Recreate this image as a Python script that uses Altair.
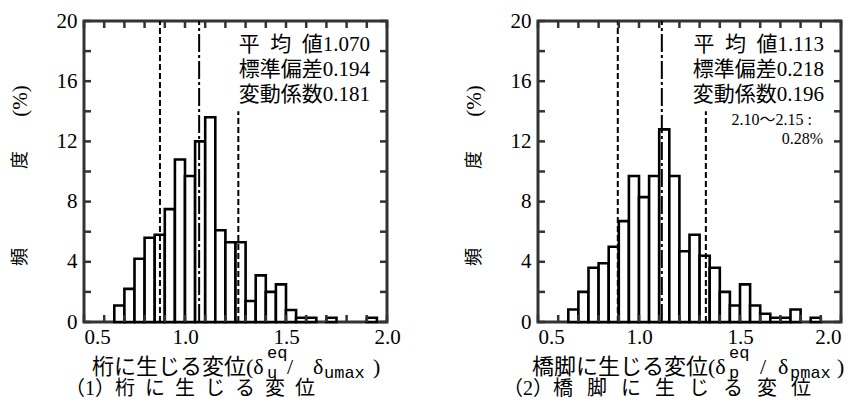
import altair as alt
import pandas as pd

# ---------------- data ----------------
BIN_W = 0.05
bins = [0.65, 0.70, 0.75, 0.80, 0.85, 0.90, 0.95, 1.00, 1.05, 1.10, 1.15, 1.20, 1.25,
        1.30, 1.35, 1.40, 1.45, 1.50, 1.55, 1.60, 1.65, 1.70, 1.75, 1.80, 1.85, 1.90]
freq_girder = [1.1, 2.2, 4.2, 5.6, 5.8, 7.5, 10.8, 9.7, 12.0, 13.6, 6.1, 5.3, 5.3,
               1.4, 3.1, 2.0, 2.5, 0.8, 0.28, 0.28, 0, 0.28, 0, 0, 0, 0.28]
freq_pier = [0.83, 2.0, 3.6, 3.9, 5.0, 6.7, 9.7, 8.3, 9.7, 12.8, 9.7, 4.7, 5.8,
             4.4, 3.6, 2.0, 1.1, 2.5, 1.1, 0.55, 0.28, 0.28, 0.83, 0, 0.28, 0]
stats_girder = [1.070, 0.194, 0.181]   # mean, sd, cv
stats_pier = [1.113, 0.218, 0.196]
x_ticks = [0.5, 0.6, 0.7, 0.8, 0.9, 1.0, 1.1, 1.2, 1.3, 1.4, 1.5, 1.6, 1.7, 1.8, 1.9, 2.0]
y_ticks = [0, 2, 4, 6, 8, 10, 12, 14, 16, 18, 20]
stat_labels = ["平\u2002均\u2002値", "標準偏差", "変動係数"]

SERIF = "Liberation Serif, Noto Sans CJK JP"
MONO = "Liberation Mono"
CJK = "Noto Sans CJK JP"
INK = "#000000"
FRAME = "#333333"
W, H = 303, 301
X0, X1, Y0, Y1 = 0.5, 2.0, 0, 20
TKX = (X1 - X0) * 7 / W     # 7 px inward tick length in data units
TKY = (Y1 - Y0) * 7 / H
ONE = pd.DataFrame({"a": [0]})


def txt(s, x, y, size, align="left", baseline="middle", angle=0, font=SERIF):
    return alt.Chart(ONE).mark_text(
        text=s, align=align, baseline=baseline, angle=angle, font=font,
        fontSize=size, color=INK
    ).encode(x=alt.value(x), y=alt.value(y))


def panel(freq, stats, sd_top, title_parts, caption, cap_x, right_flush, extra):
    mean, sd, cv = stats
    df = pd.DataFrame({"start": bins, "freq": freq})
    df = df[df.freq > 0].copy()
    df["end"] = df.start + BIN_W
    df["zero"] = 0.0

    xs = alt.Scale(domain=[X0, X1], nice=False, zero=False)
    ys = alt.Scale(domain=[Y0, Y1], nice=False)

    if right_flush:
        lab_align = {"condition": [{"test": "datum.value < 0.55", "value": "left"},
                                   {"test": "datum.value > 1.95", "value": "right"}],
                     "value": "center"}
    else:
        lab_align = {"condition": {"test": "datum.value < 0.55", "value": "left"},
                     "value": "center"}

    x_axis = alt.Axis(values=x_ticks,
                      labelExpr="abs(datum.value*2 - round(datum.value*2)) < 0.001 ? format(datum.value, '.1f') : ''",
                      labelAlign=lab_align, labelFlush=False, labelOverlap=False,
                      ticks=False, domain=False, labelPadding=4, title=None)
    y_axis = alt.Axis(values=y_ticks,
                      labelExpr="datum.value % 4 == 0 ? datum.label : ''",
                      labelFlush=False, labelOverlap=False,
                      ticks=False, domain=False, labelPadding=7, title=None)

    bars = alt.Chart(df).mark_rect(fill="white", stroke=INK, strokeWidth=2.6).encode(
        x=alt.X("start:Q", scale=xs, axis=x_axis),
        x2="end:Q",
        y=alt.Y("freq:Q", scale=ys, axis=y_axis),
        y2="zero:Q",
    )

    ldf = pd.DataFrame({"x": [mean - sd, mean, mean + sd],
                        "bottom": [0, 0, 0],
                        "top": [20, 20, sd_top],
                        "kind": ["sd", "mean", "sd"]})
    rules = alt.Chart(ldf).mark_rule(color=INK, strokeWidth=2).encode(
        x=alt.X("x:Q", scale=xs, axis=None),
        y=alt.Y("bottom:Q", scale=ys, axis=None),
        y2="top:Q",
        strokeDash=alt.StrokeDash("kind:N", scale=alt.Scale(domain=["sd", "mean"],
                                  range=[[6, 3], [18, 3, 3, 3]]), legend=None),
    )

    # inward ticks on all four sides, as short segments in data units
    xt = pd.DataFrame({"t": x_ticks * 2,
                       "a": [Y0] * len(x_ticks) + [Y1] * len(x_ticks),
                       "b": [Y0 + TKY] * len(x_ticks) + [Y1 - TKY] * len(x_ticks)})
    yt = pd.DataFrame({"t": y_ticks * 2,
                       "a": [X0] * len(y_ticks) + [X1] * len(y_ticks),
                       "b": [X0 + TKX] * len(y_ticks) + [X1 - TKX] * len(y_ticks)})
    xtick = alt.Chart(xt).mark_rule(color=FRAME, strokeWidth=2.5).encode(
        x=alt.X("t:Q", scale=xs, axis=None), x2="t:Q",
        y=alt.Y("a:Q", scale=ys, axis=None), y2="b:Q")
    ytick = alt.Chart(yt).mark_rule(color=FRAME, strokeWidth=2.5).encode(
        y=alt.Y("t:Q", scale=ys, axis=None), y2="t:Q",
        x=alt.X("a:Q", scale=xs, axis=None), x2="b:Q")

    layers = [bars, rules, xtick, ytick]
    sx = 286
    for i, (lab, v) in enumerate(zip(stat_labels, [mean, sd, cv])):
        layers.append(txt(f"{lab}{v:.3f}", sx, 24 + 25 * i, 21, align="right"))
    for s, x, y, size in extra:
        layers.append(txt(s, x, y, size, align="right"))

    # y-axis title (rotated)
    layers.append(txt("頻", -63, 236, 18, align="center", angle=270, font=CJK))
    layers.append(txt("度", -63, 139, 18, align="center", angle=270, font=CJK))
    layers.append(txt("(%)", -63, 80, 21, align="center", angle=270))

    # x-axis title pieces
    for s, x, kind in title_parts:
        if kind == "main":
            layers.append(txt(s, x, 353, 22, baseline="alphabetic"))
        elif kind == "sub":
            layers.append(txt(s, x, 357, 17, baseline="alphabetic", font=MONO))
        else:
            layers.append(txt(s, x, 337, 17, baseline="alphabetic", font=MONO))

    layers.append(txt(caption, cap_x, 368, 20))

    return alt.layer(*layers).resolve_axis(x="independent", y="independent").properties(
        width=W, height=H)


left = panel(freq_girder, stats_girder, 14.0,
             [("桁に生じる変位(δ", 8, "main"), ("u", 183, "sub"), ("eq", 183, "sup"),
              ("/", 203, "main"), ("δ", 229, "main"), ("umax", 240, "sub"),
              (")", 289, "main")],
             "（1）桁\u2002に\u2002生\u2002じ\u2002る\u2002変\u2002位", -19, False, [])

right = panel(freq_pier, stats_pier, 14.0,
              [("橋脚に生じる変位(δ", -6, "main"), ("p", 191, "sub"), ("eq", 191, "sup"),
               ("/", 222, "main"), ("δ", 240, "main"), ("pmax", 252, "sub"),
               (")", 299, "main")],
              "（2）橋\u2002\u2009脚\u2002\u2009に\u2002\u2009生\u2002\u2009じ\u2002\u2009る\u2002\u2009変\u2002\u2009位",
              -35, True,
              [("2.10〜2.15 :", 274, 99, 16), ("0.28%", 285, 118, 16)])

chart = alt.hconcat(left, right, spacing=60).properties(
    padding={"left": 0, "top": 0, "right": 0, "bottom": 0}
).configure_view(
    stroke=FRAME, strokeWidth=3
).configure_axis(
    labelFont="Liberation Serif", labelFontSize=21, labelColor=INK, grid=False
)

chart.save("out.html", embed_options={"renderer": "svg", "actions": False})
